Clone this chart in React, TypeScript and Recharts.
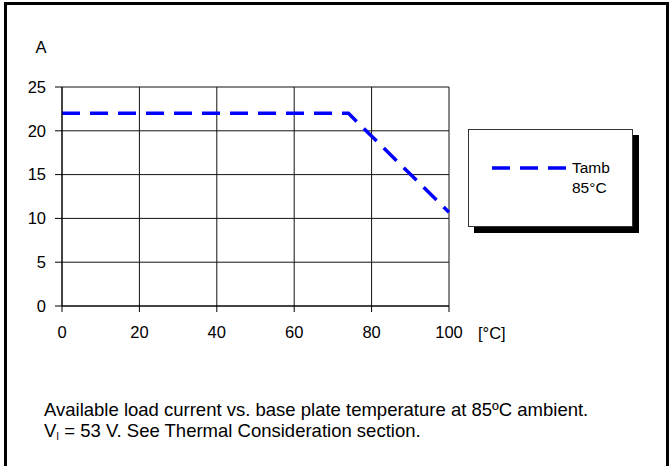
import React from "react";
import { LineChart, Line, XAxis, YAxis, CartesianGrid, Legend, Label } from "recharts";

const temps = [0, 74, 100];
const current = [22, 22, 10.7];
const xTicks = [0, 20, 40, 60, 80, 100];
const yTicks = [0, 5, 10, 15, 20, 25];
const seriesName = "Tamb 85°C";

const data = temps.map((t, i) => ({ temp: t, amps: current[i] }));

const FONT = "'Liberation Sans', Arial, sans-serif";

const LegendBox = (props: any) => {
  const entry = (props.payload || [])[0];
  if (!entry) return null;
  return (
    <div
      style={{
        position: "relative",
        width: 165,
        height: 98,
        boxSizing: "border-box",
        border: "1px solid #333",
        background: "#fff",
        boxShadow: "6px 6px 0 #000",
        fontFamily: FONT,
        fontSize: 15.5,
        color: "#000",
      }}
    >
      <svg width={76} height={6} style={{ position: "absolute", left: 23, top: 35 }}>
        <line x1={0} y1={3} x2={76} y2={3} stroke={entry.color} strokeWidth={3.5} strokeDasharray="18 10" />
      </svg>
      <div style={{ position: "absolute", left: 103, top: 28, width: 50, lineHeight: "20px" }}>
        {entry.value}
      </div>
    </div>
  );
};

const App: React.FC = () => {
  return (
    <div style={{ position: "absolute", left: 0, top: 0, width: 669, height: 466, background: "#fff", overflow: "hidden" }}>
      <div
        style={{
          position: "absolute",
          left: 4,
          top: 2,
          width: 665,
          height: 464,
          boxSizing: "border-box",
          borderTop: "3px solid #000",
          borderLeft: "3px solid #000",
          borderRight: "3px solid #000",
        }}
      />
      <div style={{ position: "absolute", left: 0, top: 0 }}>
        <LineChart
          width={669}
          height={466}
          data={data}
          margin={{ top: 87, right: 220, bottom: 130, left: 0 }}
          style={{ fontFamily: FONT }}
        >
          <CartesianGrid stroke="#111" strokeWidth={1} />
          <XAxis
            dataKey="temp"
            type="number"
            domain={[0, 100]}
            ticks={xTicks}
            height={30}
            tickSize={6}
            tickMargin={14}
            stroke="#000"
            tick={{ fill: "#000", fontSize: 16.5 }}
          >
            <Label value="[°C]" position="right" offset={29} dy={12} fill="#000" fontSize={16.5} />
          </XAxis>
          <YAxis
            type="number"
            domain={[0, 25]}
            ticks={yTicks}
            width={62}
            tickSize={7}
            tickMargin={9}
            stroke="#000"
            tick={{ fill: "#000", fontSize: 16.5 }}
          >
            <Label value="A" position="top" offset={34} dx={10} fill="#000" fontSize={16.5} />
          </YAxis>
          <Legend
            layout="horizontal"
            align="center"
            verticalAlign="middle"
            width={165}
            wrapperStyle={{ left: 468, top: 129, width: 165, height: 98 }}
            content={LegendBox}
          />
          <Line
            type="linear"
            dataKey="amps"
            name={seriesName}
            stroke="#0000ff"
            strokeWidth={3.5}
            strokeDasharray="18 10"
            dot={false}
            activeDot={false}
            isAnimationActive={false}
          />
        </LineChart>
      </div>
      <div
        style={{
          position: "absolute",
          left: 44,
          top: 399,
          fontFamily: FONT,
          fontSize: 18.5,
          lineHeight: "21px",
          color: "#000",
          whiteSpace: "nowrap",
        }}
      >
        Available load current vs. base plate temperature at 85ºC ambient.
        <br />
        V<sub style={{ fontSize: 10, verticalAlign: "-3px" }}>I</sub> = 53 V. See Thermal Consideration section.
      </div>
    </div>
  );
};

export default App;
